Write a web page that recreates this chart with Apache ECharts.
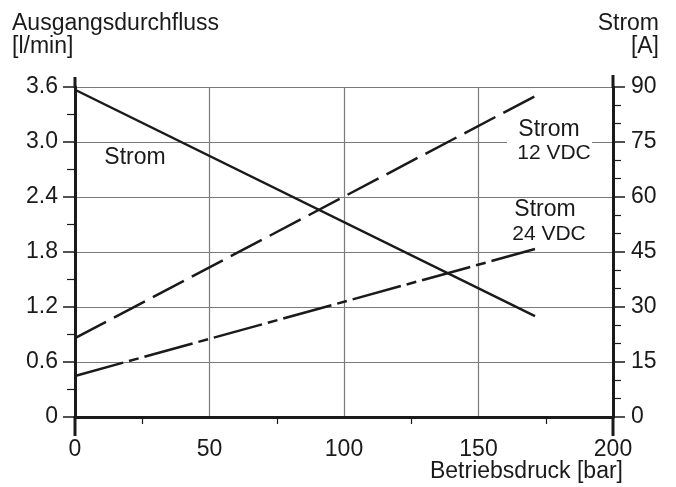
<!DOCTYPE html>
<html>
<head>
<meta charset="utf-8" />
<title>Ausgangsdurchfluss / Strom</title>
<script src="https://cdn.jsdelivr.net/npm/echarts@6/dist/echarts.min.js"></script>
<style>
html, body, #main { margin: 0; padding: 0; width: 676px; height: 487px; background: #fff; }
</style>
</head>
<body>
<div id="main"></div>
<script>
// values
var pressure = [0, 171];          // Betriebsdruck [bar]
var flow = [3.57, 1.10];          // Ausgangsdurchfluss [l/min]
var current12 = [21.5, 87.5];     // Strom 12 VDC [A]
var current24 = [11.2, 45.8];     // Strom 24 VDC [A]

var xTicks = [0, 200, 50];        // min, max, step
var flowTicks = [0, 3.6, 0.6];
var ampTicks = [0, 90, 15];

function pairs(xs, ys) {
  var out = [];
  for (var i = 0; i < xs.length; i++) out.push([xs[i], ys[i]]);
  return out;
}

var font = '"Liberation Sans", Arial, sans-serif';
var ink = '#1a1a1a';
var gridCol = '#7a7a7a';

var chart = echarts.init(document.getElementById('main'));

var option = {
  animation: false,
  backgroundColor: '#fff',
  grid: { left: 75, right: 63, top: 87, bottom: 70 },
  xAxis: {
    type: 'value',
    min: xTicks[0], max: xTicks[1], interval: xTicks[2],
    axisLine: { show: true, lineStyle: { color: ink, width: 3 } },
    axisTick: { show: false },
    minorTick: { show: true, splitNumber: 2, length: 7, lineStyle: { color: ink, width: 1.2 } },
    axisLabel: { color: ink, fontFamily: font, fontSize: 23, margin: 21 },
    splitLine: { show: true, lineStyle: { color: gridCol, width: 1.2 } }
  },
  yAxis: [{
    type: 'value',
    position: 'left',
    min: flowTicks[0], max: flowTicks[1], interval: flowTicks[2],
    axisLine: { show: true, lineStyle: { color: ink, width: 3 } },
    axisTick: { show: true, length: 12, lineStyle: { color: ink, width: 1.5 } },
    minorTick: { show: true, splitNumber: 2, length: 8, lineStyle: { color: ink, width: 1.2 } },
    axisLabel: {
      color: ink, fontFamily: font, fontSize: 23, margin: 17,
      formatter: function (v) { return v === 0 ? '0' : v.toFixed(1); }
    },
    splitLine: { show: true, lineStyle: { color: gridCol, width: 1.2 } }
  }, {
    type: 'value',
    position: 'right',
    min: ampTicks[0], max: ampTicks[1], interval: ampTicks[2],
    axisLine: { show: true, lineStyle: { color: ink, width: 3 } },
    axisTick: { show: true, length: 12, lineStyle: { color: ink, width: 1.5 } },
    minorTick: { show: true, splitNumber: 3, length: 8, lineStyle: { color: ink, width: 1.2 } },
    axisLabel: { color: ink, fontFamily: font, fontSize: 23, margin: 18 },
    splitLine: { show: false }
  }],
  series: [{
    name: 'Durchfluss',
    type: 'line',
    yAxisIndex: 0,
    data: pairs(pressure, flow),
    symbol: 'none',
    lineStyle: { color: ink, width: 2.5 },
    z: 5
  }, {
    name: 'Strom 12 VDC',
    type: 'line',
    yAxisIndex: 1,
    data: pairs(pressure, current12),
    symbol: 'none',
    lineStyle: { color: ink, width: 2.5, type: [35, 9] },
    z: 5
  }, {
    name: 'Strom 24 VDC',
    type: 'line',
    yAxisIndex: 1,
    data: pairs(pressure, current24),
    symbol: 'none',
    lineStyle: { color: ink, width: 2.5, type: [50, 6, 10, 6] },
    z: 5
  }],
  graphic: [
    // axis lines running past the plot
    { type: 'line', z: 10, shape: { x1: 75, y1: 77, x2: 75, y2: 88 }, style: { stroke: ink, lineWidth: 3 } },
    { type: 'line', z: 10, shape: { x1: 75, y1: 416, x2: 75, y2: 436 }, style: { stroke: ink, lineWidth: 3 } },
    { type: 'line', z: 10, shape: { x1: 613, y1: 75, x2: 613, y2: 88 }, style: { stroke: ink, lineWidth: 3 } },
    { type: 'line', z: 10, shape: { x1: 613, y1: 416, x2: 613, y2: 436 }, style: { stroke: ink, lineWidth: 3 } },
    // axis titles
    { type: 'text', z: 10, x: 12, y: 12,
      style: { text: 'Ausgangsdurchfluss\n[l/min]', font: '23px ' + font, fill: ink, lineHeight: 23 } },
    { type: 'text', z: 10, x: 659, y: 12,
      style: { text: 'Strom\n[A]', font: '23px ' + font, fill: ink, lineHeight: 23, textAlign: 'right' } },
    { type: 'text', z: 10, x: 623, y: 472,
      style: { text: 'Betriebsdruck [bar]', font: '23px ' + font, fill: ink, textAlign: 'right', textVerticalAlign: 'middle' } },
    // curve labels
    { type: 'text', z: 10, x: 135, y: 158,
      style: { text: 'Strom', font: '23px ' + font, fill: ink, textAlign: 'center', textVerticalAlign: 'middle' } },
    { type: 'rect', z: 9, shape: { x: 507, y: 137, width: 85, height: 10 }, style: { fill: '#fff' } },
    { type: 'text', z: 10, x: 549, y: 130,
      style: { text: 'Strom', font: '23px ' + font, fill: ink, textAlign: 'center', textVerticalAlign: 'middle' } },
    { type: 'text', z: 10, x: 554, y: 153,
      style: { text: '12 VDC', font: '21px ' + font, fill: ink, textAlign: 'center', textVerticalAlign: 'middle' } },
    { type: 'text', z: 10, x: 545, y: 210,
      style: { text: 'Strom', font: '23px ' + font, fill: ink, textAlign: 'center', textVerticalAlign: 'middle' } },
    { type: 'text', z: 10, x: 549, y: 234,
      style: { text: '24 VDC', font: '21px ' + font, fill: ink, textAlign: 'center', textVerticalAlign: 'middle' } }
  ]
};

chart.setOption(option);
</script>
</body>
</html>
